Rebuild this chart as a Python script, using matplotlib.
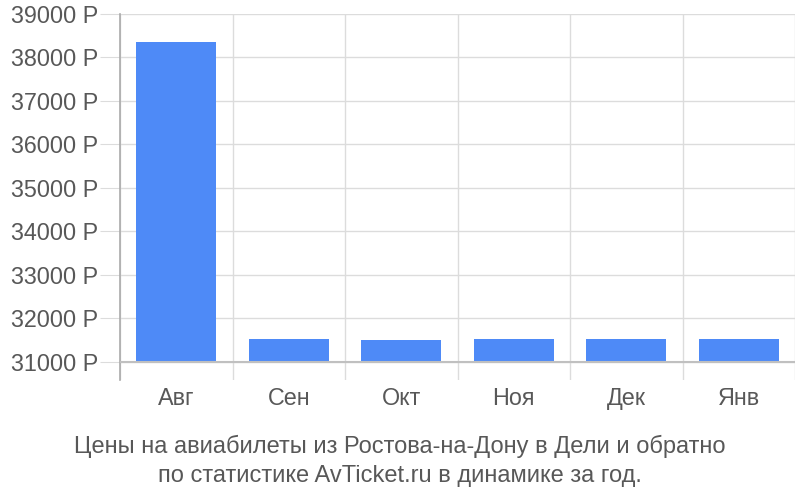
import matplotlib
matplotlib.use('Agg')
from matplotlib import pyplot as plt
import matplotlib.ticker as ticker

plt.rcParams['font.family'] = ['Liberation Sans', 'DejaVu Sans']

months = ['Авг', 'Сен', 'Окт', 'Ноя', 'Дек', 'Янв']
prices = [38363, 31522, 31492, 31522, 31522, 31522]
y_ticks = [31000, 32000, 33000, 34000, 35000, 36000, 37000, 38000, 39000]
caption = 'Цены на авиабилеты из Ростова-на-Дону в Дели и обратно\nпо статистике AvTicket.ru в динамике за год.'

text_color = '#585858'
grid_color = '#dcdcdc'

fig = plt.figure(figsize=(8, 5), dpi=100, facecolor='white')
ax = fig.add_axes([0.15, 0.24, 0.84375, 0.732])

x = list(range(len(months)))
ax.bar(x, [p - 31000 for p in prices], bottom=31000, width=0.71,
       color='#4e8af7', zorder=3)

ax.set_xlim(-0.5, len(months) - 0.5)
ax.set_ylim(30579, 39000)

ax.set_yticks(y_ticks)
ax.yaxis.set_major_formatter(ticker.FuncFormatter(lambda v, p: f'{int(v)} Р'))
ax.set_xticks(x)
ax.set_xticklabels(months)
ax.set_xticks([i - 0.5 for i in range(len(months) + 1)], minor=True)

ax.grid(True, axis='y', color=grid_color, linewidth=1, zorder=0)
ax.grid(True, axis='x', which='minor', color=grid_color, linewidth=1, zorder=0)
ax.axhline(31000, color='#c0c0c0', linewidth=1.5, zorder=4)

for side in ['top', 'right', 'bottom']:
    ax.spines[side].set_visible(False)
ax.spines['left'].set_color('#aaaaaa')
ax.spines['left'].set_linewidth(1.2)

ax.tick_params(axis='y', which='major', length=14.4, color=grid_color,
               labelsize=16.8, labelcolor=text_color, pad=1.5)
ax.tick_params(axis='x', which='major', length=0, labelsize=16.8,
               labelcolor=text_color, pad=5)
ax.tick_params(axis='x', which='minor', length=0)

fig.text(0.5, 0.078, caption, ha='center', va='center', fontsize=17,
         color=text_color, linespacing=1.42)

plt.savefig('out.png', dpi=100)
